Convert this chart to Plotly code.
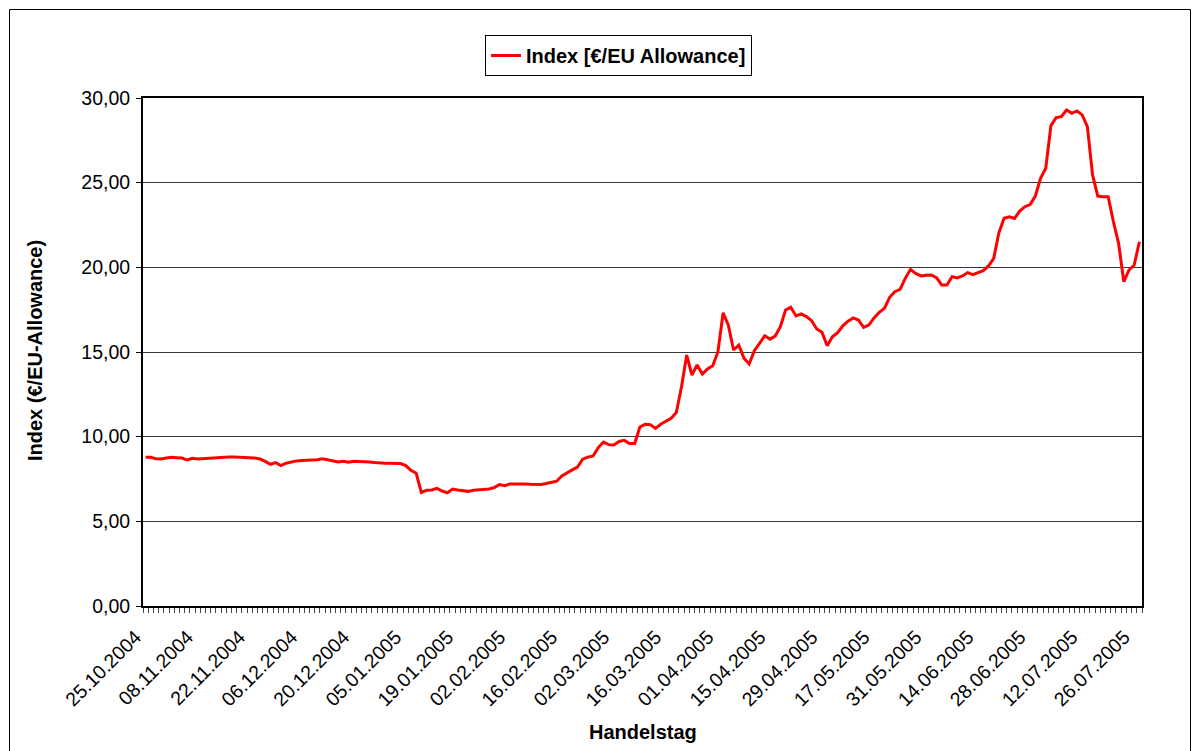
import pandas as pd
import plotly.graph_objects as go

# ---- data -------------------------------------------------------------
start_date = "2004-10-25"
end_date = "2005-07-27"
holidays = ["2004-12-24", "2004-12-31", "2005-03-25", "2005-03-28",
            "2005-05-05", "2005-05-16"]

index_values = [
    8.78, 8.78, 8.70, 8.68, 8.74, 8.78, 8.76, 8.74, 8.62, 8.72,
    8.68, 8.70, 8.76, 8.76, 8.78, 8.78, 8.80, 8.80, 8.80, 8.78,
    8.76, 8.74, 8.68, 8.54, 8.37, 8.47, 8.29, 8.43, 8.51, 8.57,
    8.59, 8.59, 8.62, 8.64, 8.70, 8.64, 8.59, 8.51, 8.55, 8.49,
    8.55, 8.55, 8.55, 8.51, 8.47, 8.43, 8.43, 8.43, 8.43, 8.41,
    8.29, 8.01, 7.84,
    6.71, 6.83, 6.85, 6.95, 6.79, 6.69, 6.91, 6.85, 6.81, 6.77,
    6.83, 6.85, 6.87, 6.91, 6.99, 7.17, 7.11, 7.21, 7.21, 7.23,
    7.21, 7.19, 7.17, 7.17, 7.23, 7.31, 7.37, 7.68, 7.88, 8.04,
    8.20, 8.67, 8.79, 8.86, 9.35, 9.68, 9.53, 9.51, 9.72, 9.78,
    9.60, 9.60,
    10.57, 10.73, 10.71, 10.49, 10.73, 10.93, 11.08, 11.42, 12.95, 14.82,
    13.64, 14.23, 13.70, 14.00, 14.19, 15.02, 17.32, 16.59, 15.12, 15.41,
    14.63, 14.29, 15.08, 15.51, 15.96, 15.76, 15.94, 16.49, 17.48, 17.64,
    17.13, 17.25, 17.09, 16.85, 16.36, 16.16, 15.37, 15.90, 16.14, 16.55,
    16.82, 17.01, 16.89, 16.45, 16.59, 17.01, 17.34, 17.58, 18.23, 18.56,
    18.70, 19.35, 19.88, 19.64, 19.49, 19.53, 19.55, 19.39, 18.96, 18.96,
    19.45, 19.37, 19.49, 19.69, 19.57, 19.69, 19.80, 20.08, 20.53, 22.05,
    22.90,
    22.99, 22.89, 23.32, 23.58, 23.71, 24.21, 25.26, 25.85, 28.37, 28.84,
    28.90, 29.29, 29.10, 29.24, 29.00, 28.31, 25.46, 24.21, 24.17, 24.17,
    22.70, 21.42, 19.15, 19.84, 20.14, 21.51,
]

trading_days = [d for d in pd.bdate_range(start_date, end_date)
                if d.strftime("%Y-%m-%d") not in holidays]
day_labels = [d.strftime("%d.%m.%Y") for d in trading_days]
n = min(len(day_labels), len(index_values))
day_labels = day_labels[:n]
index_values = index_values[:n]
positions = list(range(n))

tick_step = 10
tick_positions = positions[::tick_step]
tick_labels = day_labels[::tick_step]

y_ticks = [0, 5, 10, 15, 20, 25, 30]
y_tick_labels = ["0,00", "5,00", "10,00", "15,00", "20,00", "25,00", "30,00"]

series_name = "Index [€/EU Allowance]"
y_title = "Index (€/EU-Allowance)"
x_title = "Handelstag"

# ---- figure -----------------------------------------------------------
FONT = "Liberation Sans, Arial, sans-serif"

fig = go.Figure()
fig.add_trace(go.Scatter(
    x=positions, y=index_values, mode="lines", name=series_name,
    line=dict(color="#FF0000", width=3),
    customdata=day_labels,
    hovertemplate="%{customdata}: %{y:.2f}<extra></extra>",
))

L, R, T, B = 143, 56, 98, 145
W, H = 1198, 751
pw, ph = W - L - R, H - T - B

def px_x(px):
    return (px - L) / pw

def px_y(py):
    return (H - B - py) / ph

fig.update_layout(
    width=W, height=H,
    margin=dict(l=L, r=R, t=T, b=B, pad=0),
    paper_bgcolor="white", plot_bgcolor="white",
    font=dict(family=FONT, color="black", size=20),
    showlegend=True,
    legend=dict(
        x=px_x(485), y=px_y(35), xanchor="left", yanchor="top",
        bordercolor="black", borderwidth=1, bgcolor="white",
        font=dict(family=FONT, size=20, color="black", weight="bold"),
        itemwidth=30, tracegroupgap=0,
    ),
    xaxis=dict(
        range=[-0.5, n - 0.5],
        tickmode="array", tickvals=tick_positions, ticktext=tick_labels,
        tickangle=-45, ticks="outside", ticklen=10,
        tickcolor="rgba(0,0,0,0)",
        ticklabelshift=-10,
        tickfont=dict(family=FONT, size=19.5, color="black"),
        showgrid=False, zeroline=False,
        showline=True, linecolor="black", linewidth=2, mirror=True,
        minor=dict(tickmode="linear", tick0=-0.5, dtick=1,
                   ticks="outside", ticklen=5, tickwidth=1,
                   tickcolor="#444", showgrid=False),
    ),
    yaxis=dict(
        range=[0, 30],
        tickmode="array", tickvals=y_ticks, ticktext=y_tick_labels,
        ticks="outside", ticklen=5, tickcolor="black",
        ticklabelstandoff=2,
        tickfont=dict(family=FONT, size=19.5, color="black"),
        showgrid=True, gridcolor="#3a3a3a", gridwidth=1,
        zeroline=False,
        showline=True, linecolor="black", linewidth=2, mirror=True,
    ),
    annotations=[
        dict(text=y_title, xref="paper", yref="paper",
             x=px_x(35), y=px_y(351), textangle=-90,
             showarrow=False, xanchor="center", yanchor="middle",
             font=dict(family=FONT, size=20, color="black", weight="bold")),
        dict(text=x_title, xref="paper", yref="paper",
             x=px_x(643), y=px_y(732),
             showarrow=False, xanchor="center", yanchor="middle",
             font=dict(family=FONT, size=20, color="black", weight="bold")),
    ],
    shapes=[
        dict(type="rect", xref="paper", yref="paper",
             x0=px_x(9.5), x1=px_x(1190.5), y0=px_y(780), y1=px_y(9.5),
             line=dict(color="black", width=1), fillcolor="rgba(0,0,0,0)",
             layer="below"),
    ],
)

fig.write_html("out.html",
               config={"displayModeBar": False},
               post_script="document.body.style.margin='0px';"
                           "document.body.style.overflow='hidden';")
